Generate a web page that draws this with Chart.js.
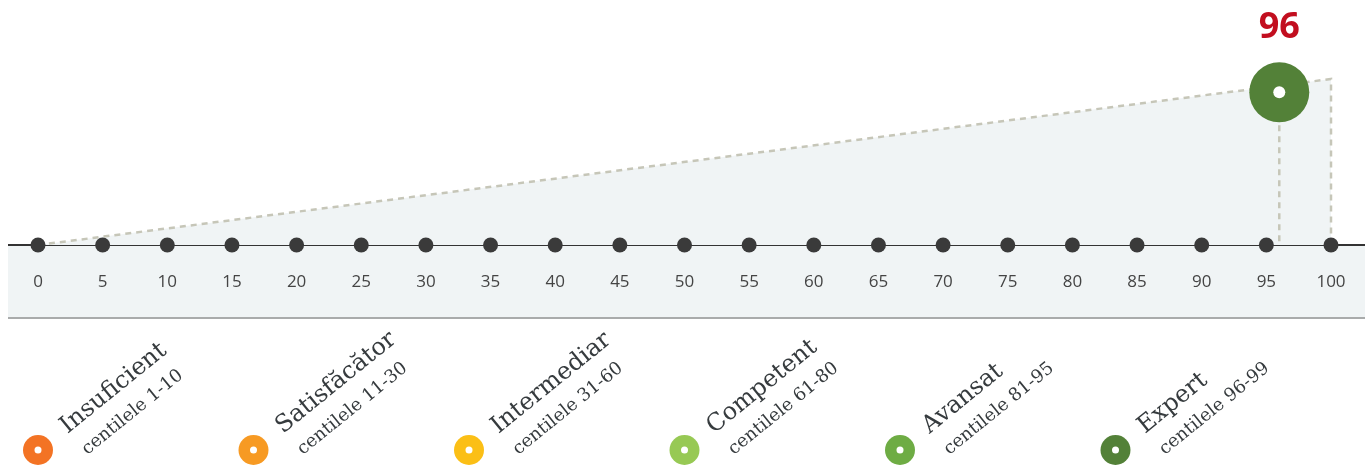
<!DOCTYPE html>
<html>
<head>
<meta charset="utf-8">
<script src="https://cdn.jsdelivr.net/npm/chart.js@4.4.1/dist/chart.umd.min.js"></script>
<style>
  html, body { margin: 0; padding: 0; background: #fff; }
  canvas { display: block; }
</style>
</head>
<body>
<canvas id="chart" width="1365" height="466"></canvas>
<script>
// percentile ticks along the axis
const tickValues = [0, 5, 10, 15, 20, 25, 30, 35, 40, 45, 50, 55, 60, 65, 70, 75, 80, 85, 90, 95, 100];

// the score marker
const scoreValue = 96;
const scoreHeight = 92;

// the rising ramp behind the axis
const rampX = [0, 100, 100];
const rampY = [0, 100, 0];

// levels shown below the axis
const levelNames = ["Insuficient", "Satisfăcător", "Intermediar", "Competent", "Avansat", "Expert"];
const levelRanges = ["centilele 1-10", "centilele 11-30", "centilele 31-60", "centilele 61-80", "centilele 81-95", "centilele 96-99"];
const levelColors = ["#f37324", "#f79a23", "#fbbf16", "#97c954", "#6eac44", "#538138"];

const scoreColor = "#538138";
const labelRed = "#c20e1f";
const dashColor = "#c6c6b8";

const axisPlugin = {
  id: "axisBand",
  beforeDatasetsDraw(chart) {
    const ctx = chart.ctx;
    const y0 = chart.scales.y.getPixelForValue(0);
    const w = chart.width;
    ctx.save();
    ctx.fillStyle = "#f0f4f5";
    ctx.fillRect(8, y0, w - 8, 73);
    ctx.strokeStyle = "#a9abab";
    ctx.lineWidth = 2;
    ctx.beginPath();
    ctx.moveTo(8, y0 + 73);
    ctx.lineTo(w, y0 + 73);
    ctx.stroke();
    ctx.strokeStyle = "#333";
    ctx.beginPath();
    ctx.moveTo(8, y0);
    ctx.lineTo(w, y0);
    ctx.stroke();
    ctx.restore();
  },
  afterDatasetsDraw(chart) {
    const ctx = chart.ctx;
    const xs = chart.scales.x, ys = chart.scales.y;
    const y0 = ys.getPixelForValue(0);
    ctx.save();

    // tick labels
    ctx.fillStyle = "#444";
    ctx.font = "17px 'Open Sans'";
    ctx.textAlign = "center";
    ctx.textBaseline = "middle";
    tickValues.forEach(v => ctx.fillText(String(v), xs.getPixelForValue(v), y0 + 37));

    // score label
    const sx = xs.getPixelForValue(scoreValue);
    const sy = ys.getPixelForValue(scoreHeight);
    ctx.fillStyle = labelRed;
    ctx.font = "bold 36px 'Open Sans'";
    ctx.fillText(String(scoreValue), sx, sy - 65);

    // legend
    const ang = -39 * Math.PI / 180;
    levelNames.forEach((name, i) => {
      const cx = xs.getPixelForValue(i * 100 / 6);
      const cy = 450;
      ctx.fillStyle = levelColors[i];
      ctx.beginPath();
      ctx.arc(cx, cy, 15, 0, Math.PI * 2);
      ctx.fill();
      ctx.fillStyle = "#fff";
      ctx.beginPath();
      ctx.arc(cx, cy, 3.5, 0, Math.PI * 2);
      ctx.fill();

      ctx.save();
      ctx.translate(cx, cy);
      ctx.rotate(ang);
      ctx.fillStyle = "#363b3e";
      ctx.textAlign = "left";
      ctx.textBaseline = "alphabetic";
      ctx.font = "24px 'DejaVu Serif'";
      ctx.fillText(name, 33, 6);
      ctx.font = "18px 'DejaVu Serif'";
      ctx.fillText(levelRanges[i], 35, 35);
      ctx.restore();
    });

    ctx.restore();
  }
};

new Chart(document.getElementById("chart"), {
  type: "scatter",
  data: {
    datasets: [
      {
        // white centre of the score marker
        data: [{ x: scoreValue, y: scoreHeight }],
        pointRadius: 6,
        pointBackgroundColor: "#fff",
        pointBorderWidth: 0,
        order: 0,
        clip: false
      },
      {
        data: [{ x: scoreValue, y: scoreHeight }],
        pointRadius: 30,
        pointBackgroundColor: scoreColor,
        pointBorderWidth: 0,
        order: 1,
        clip: false
      },
      {
        data: tickValues.map(v => ({ x: v, y: 0 })),
        pointRadius: 7.5,
        pointBackgroundColor: "#3a3a3a",
        pointBorderWidth: 0,
        order: 2,
        clip: false
      },
      {
        type: "line",
        data: [{ x: scoreValue, y: scoreHeight }, { x: scoreValue, y: 0 }],
        borderColor: dashColor,
        borderWidth: 2.5,
        borderDash: [6, 5],
        pointRadius: 0,
        fill: false,
        order: 3,
        clip: false
      },
      {
        type: "line",
        data: rampX.map((x, i) => ({ x, y: rampY[i] })),
        borderColor: dashColor,
        borderWidth: 2.5,
        borderDash: [6, 5],
        backgroundColor: "#f0f4f5",
        pointRadius: 0,
        tension: 0,
        fill: "origin",
        order: 4,
        clip: false
      }
    ]
  },
  options: {
    responsive: false,
    devicePixelRatio: 1,
    animation: false,
    layout: { padding: { left: 38, right: 34, top: 79, bottom: 221 } },
    plugins: {
      legend: { display: false },
      tooltip: { enabled: false }
    },
    scales: {
      x: { type: "linear", min: 0, max: 100, display: false },
      y: { type: "linear", min: 0, max: 100, display: false }
    }
  },
  plugins: [axisPlugin]
});
</script>
</body>
</html>
